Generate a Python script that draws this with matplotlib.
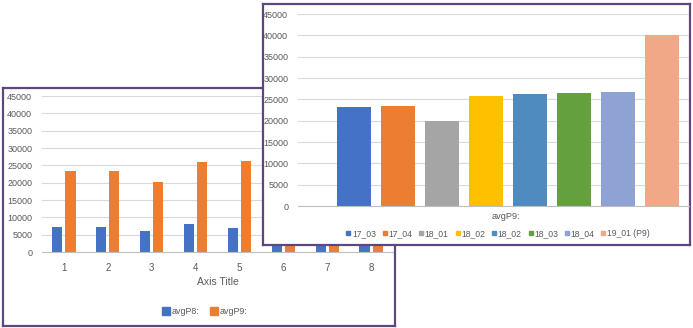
import matplotlib.pyplot as plt
from matplotlib.lines import Line2D

plt.rcParams['font.family'] = ['Liberation Sans', 'DejaVu Sans']

# back chart: avgP8 / avgP9 by index
back_categories = ['1', '2', '3', '4', '5', '6', '7', '8']
avg_p8 = [7200, 7200, 6100, 8000, 6900, 7000, 7200, 7000]
avg_p9 = [23300, 23300, 20100, 25900, 26200, 26400, 26800, 40000]

# front chart: avgP9 per period
front_series = ['17_03', '17_04', '18_01', '18_02', '18_02', '18_03', '18_04', '19_01 (P9)']
front_values = [23200, 23400, 20000, 25800, 26200, 26400, 26800, 40000]
front_colors = ['#4472C4', '#ED7D31', '#A5A5A5', '#FFC000', '#4F8BBF',
                '#65A03F', '#8FA2D4', '#F0A886']

y_ticks = list(range(0, 45001, 5000))

W, H = 693, 328
PURPLE = '#5E4680'
GRID = '#D9D9D9'
TXT = '#595959'


def px(x0, y_top, x1, y_bottom):
    # pixel box -> figure fraction rect
    return [x0 / W, 1 - y_bottom / H, (x1 - x0) / W, (y_bottom - y_top) / H]


def frame(rect, z):
    f = fig.add_axes(rect, zorder=z)
    f.set_xticks([])
    f.set_yticks([])
    f.set_facecolor('white')
    for s in f.spines.values():
        s.set_color(PURPLE)
        s.set_linewidth(1.6)
    return f


def style_plot(ax):
    ax.set_facecolor('none')
    for s in ['left', 'right', 'top']:
        ax.spines[s].set_visible(False)
    ax.spines['bottom'].set_color('#BFBFBF')
    ax.spines['bottom'].set_linewidth(0.8)
    ax.set_ylim(0, 45000)
    ax.set_yticks(y_ticks)
    ax.set_yticklabels([str(t) for t in y_ticks], fontsize=6.5, color=TXT)
    ax.yaxis.grid(True, color=GRID, linewidth=0.8)
    ax.set_axisbelow(True)
    ax.tick_params(length=0)
    ax.tick_params(axis='y', pad=7)


fig = plt.figure(figsize=(W / 100, H / 100), dpi=100)

# ---- back chart
frame(px(3, 88, 395, 326), 1)
ax1 = fig.add_axes(px(42, 96, 393, 252), zorder=2)
style_plot(ax1)
idx = list(range(len(back_categories)))
ax1.bar([i - 0.15 for i in idx], avg_p8, width=0.23, color='#4472C4', label='avgP8:')
ax1.bar([i + 0.15 for i in idx], avg_p9, width=0.23, color='#ED7D31', label='avgP9:')
ax1.set_xlim(-0.5, len(idx) - 0.5)
ax1.set_xticks(idx)
ax1.set_xticklabels(back_categories, fontsize=7, color=TXT)
ax1.tick_params(axis='x', pad=8)
ax1.set_xlabel('Axis Title', fontsize=7.5, color=TXT, labelpad=3)
h1 = [Line2D([], [], marker='s', linestyle='none', markersize=5.5, color=c)
      for c in ['#4472C4', '#ED7D31']]
fig.legend(h1, ['avgP8:', 'avgP9:'], loc='center', bbox_to_anchor=(205 / W, 1 - 312 / H),
           ncol=2, frameon=False, fontsize=6.4, handlelength=0.8, handletextpad=0.2,
           columnspacing=1.3, labelcolor=TXT)

# ---- front chart
frame(px(263, 4, 690, 245), 3)
ax2 = fig.add_axes(px(298, 14, 689, 206), zorder=4)
style_plot(ax2)
for i, (v, c) in enumerate(zip(front_values, front_colors)):
    ax2.bar(i, v, width=0.77, color=c)
ax2.set_xlim(-1.27, 7.61)
ax2.set_xticks([3.45])
ax2.set_xticklabels(['avgP9:'], fontsize=6.6, color=TXT)
ax2.tick_params(axis='x', pad=4)
h2 = [Line2D([], [], marker='s', linestyle='none', markersize=3.2, color=c)
      for c in front_colors]
fig.legend(h2, front_series, loc='center', bbox_to_anchor=(498 / W, 1 - 234 / H),
           ncol=8, frameon=False, fontsize=6.2, handlelength=0.5, handletextpad=0.15,
           columnspacing=0.8, labelcolor=TXT).set_zorder(5)

fig.savefig('out.png', dpi=100)
